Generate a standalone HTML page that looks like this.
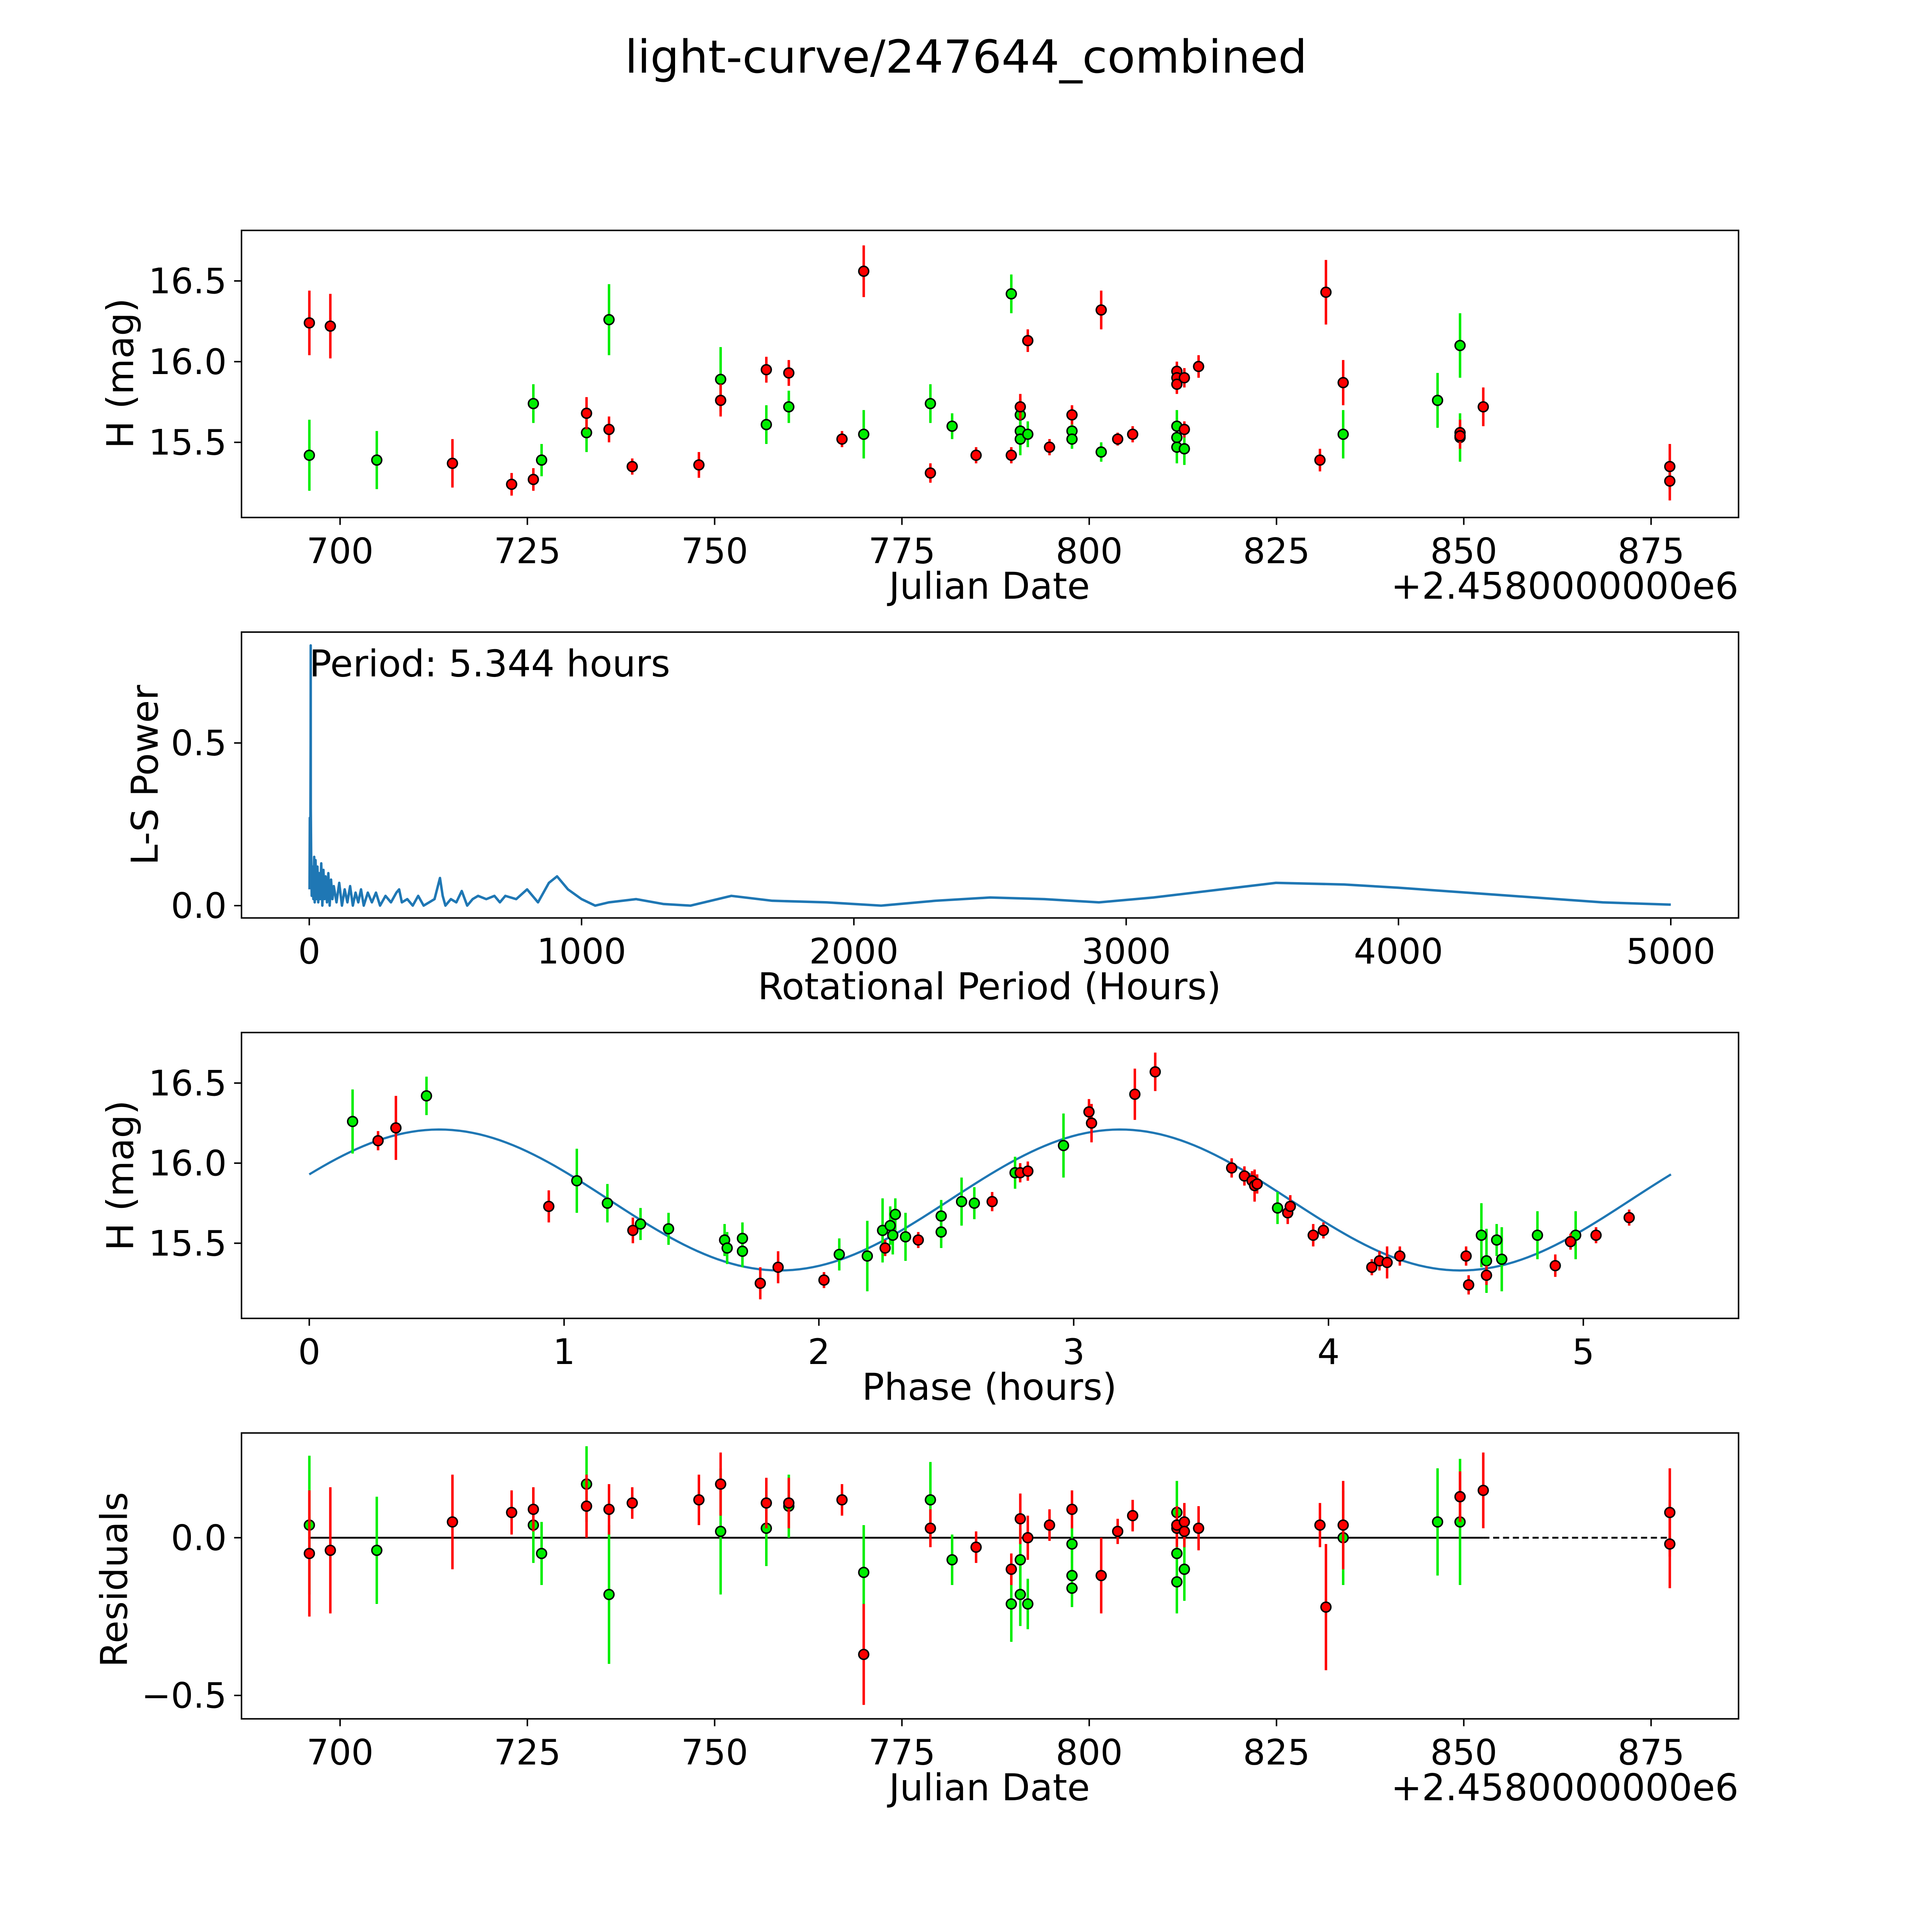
<!DOCTYPE html>
<html><head><meta charset="utf-8"><style>
html,body{margin:0;padding:0;background:#fff;overflow:hidden;width:100vw;height:100vh}
svg{display:block;width:100vw;height:100vh}
text{font-family:"DejaVu Sans","Liberation Sans",sans-serif;fill:#000}
</style></head><body>
<svg id="fig" viewBox="0 0 1568 1568" preserveAspectRatio="none" xmlns="http://www.w3.org/2000/svg">
<rect width="1568" height="1568" fill="#fff"/>
<text x="784" y="59" font-size="37" text-anchor="middle">light-curve/247644_combined</text>
</svg>
<script>
// ---------- Panel 1: light curve data ----------
const redDates=[695.9,698.7,715.0,722.9,725.8,732.9,735.9,739.0,747.9,750.8,756.9,759.9,767.0,769.9,778.8,784.9,789.6,790.8,791.8,794.7,797.7,801.6,803.8,805.8,811.7,811.7,811.7,812.7,812.7,814.6,830.8,831.6,833.9,849.5,849.5,852.6,877.5,877.5];
const redMags=[16.24,16.22,15.37,15.24,15.27,15.68,15.58,15.35,15.36,15.76,15.95,15.93,15.52,16.56,15.31,15.42,15.42,15.72,16.13,15.47,15.67,16.32,15.52,15.55,15.94,15.90,15.86,15.90,15.58,15.97,15.39,16.43,15.87,15.56,15.54,15.72,15.35,15.26];
const redErrs=[0.2,0.2,0.15,0.07,0.07,0.1,0.08,0.05,0.08,0.1,0.08,0.08,0.05,0.16,0.06,0.05,0.05,0.08,0.07,0.05,0.06,0.12,0.04,0.05,0.06,0.06,0.06,0.06,0.05,0.07,0.07,0.2,0.14,0.08,0.08,0.12,0.14,0.12];
const greenDates=[695.9,704.9,725.8,726.9,732.9,735.9,750.8,756.9,759.9,769.9,778.8,781.7,789.6,790.8,790.8,790.8,791.8,797.7,797.7,801.6,811.7,811.7,811.7,812.7,833.9,846.5,849.5,849.5];
const greenMags=[15.42,15.39,15.74,15.39,15.56,16.26,15.89,15.61,15.72,15.55,15.74,15.60,16.42,15.67,15.57,15.52,15.55,15.57,15.52,15.44,15.60,15.53,15.47,15.46,15.55,15.76,16.10,15.53];
const greenErrs=[0.22,0.18,0.12,0.1,0.12,0.22,0.2,0.12,0.1,0.15,0.12,0.08,0.12,0.1,0.1,0.1,0.08,0.06,0.06,0.06,0.1,0.1,0.1,0.1,0.15,0.17,0.2,0.15];
// ---------- Panel 2: periodogram ----------
const lsPeriods=[1,2,3,4,5,5.3,5.6,7,9,12,15,18,20,23,26,30,33,36,40,44,48,52,56,60,65,70,75,80,85,90,100,110,120,130,140,150,160,170,180,190,200,215,230,245,260,280,300,320,330,340,360,380,400,420,440,460,480,490,500,520,540,560,580,600,620,650,680,700,720,760,800,840,880,910,950,1000,1050,1100,1200,1300,1400,1550,1700,1900,2100,2300,2500,2700,2900,3100,3300,3550,3800,4000,4250,4500,4750,5000];
const lsPowers=[0.05,0.27,0.1,0.2,0.5,0.80,0.3,0.15,0.03,0.12,0.02,0.15,0.01,0.14,0.02,0.12,0.01,0.1,0.02,0.13,0.0,0.11,0.02,0.09,0.01,0.1,0.0,0.08,0.02,0.06,0.01,0.07,0.0,0.05,0.01,0.06,0.0,0.04,0.01,0.05,0.0,0.04,0.01,0.04,0.0,0.03,0.01,0.04,0.05,0.01,0.02,0.0,0.03,0.0,0.01,0.02,0.085,0.03,0.0,0.02,0.01,0.045,0.0,0.02,0.03,0.02,0.03,0.01,0.03,0.02,0.05,0.01,0.07,0.09,0.05,0.02,0.0,0.01,0.02,0.005,0.0,0.03,0.015,0.01,0.0,0.015,0.025,0.02,0.01,0.025,0.045,0.07,0.065,0.055,0.04,0.025,0.01,0.003];
// ---------- Panel 3: phased data ----------
const redPhase=[0.27,0.34,0.94,1.27,1.77,1.84,2.02,2.26,2.39,2.68,2.79,2.82,3.06,3.07,3.24,3.32,3.62,3.67,3.70,3.71,3.72,3.84,3.85,3.94,3.98,4.17,4.20,4.23,4.28,4.54,4.55,4.62,4.89,4.95,5.05,5.18];
const redPhaseMag=[16.14,16.22,15.73,15.58,15.25,15.35,15.27,15.47,15.52,15.76,15.94,15.95,16.32,16.25,16.43,16.57,15.97,15.92,15.89,15.86,15.87,15.69,15.73,15.55,15.58,15.35,15.39,15.38,15.42,15.42,15.24,15.30,15.36,15.51,15.55,15.66];
const redPhaseErr=[0.06,0.2,0.1,0.08,0.1,0.1,0.05,0.05,0.05,0.06,0.06,0.06,0.08,0.12,0.16,0.12,0.06,0.06,0.06,0.1,0.06,0.07,0.07,0.07,0.05,0.05,0.06,0.1,0.06,0.06,0.06,0.06,0.07,0.05,0.05,0.05];
const greenPhase=[0.17,0.46,1.05,1.17,1.30,1.41,1.63,1.64,1.70,1.70,2.08,2.19,2.25,2.28,2.29,2.30,2.34,2.48,2.48,2.56,2.61,2.77,2.96,3.80,4.60,4.62,4.66,4.68,4.82,4.97];
const greenPhaseMag=[16.26,16.42,15.89,15.75,15.62,15.59,15.52,15.47,15.53,15.45,15.43,15.42,15.58,15.61,15.55,15.68,15.54,15.57,15.67,15.76,15.75,15.94,16.11,15.72,15.55,15.39,15.52,15.40,15.55,15.55];
const greenPhaseErr=[0.2,0.12,0.2,0.12,0.1,0.1,0.1,0.1,0.1,0.1,0.1,0.22,0.2,0.12,0.12,0.1,0.15,0.1,0.1,0.15,0.1,0.1,0.2,0.1,0.2,0.2,0.1,0.2,0.15,0.15];
const modelMean=15.77, modelAmp=0.44, modelPeak=0.51, modelPeriod=2.672, modelSpan=5.344;
// ---------- Panel 4: residuals ----------
const redRes=[-0.05,-0.04,0.05,0.08,0.09,0.10,0.09,0.11,0.12,0.17,0.11,0.11,0.12,-0.37,0.03,-0.03,-0.10,0.06,0.0,0.04,0.09,-0.12,0.02,0.07,0.03,0.04,0.04,0.05,0.02,0.03,0.04,-0.22,0.04,0.13,0.13,0.15,0.08,-0.02];
const redResDates=[695.9,698.7,715.0,722.9,725.8,732.9,735.9,739.0,747.9,750.8,756.9,759.9,767.0,769.9,778.8,784.9,789.6,790.8,791.8,794.7,797.7,801.6,803.8,805.8,811.7,811.7,811.7,812.7,812.7,814.6,830.8,831.6,833.9,849.5,849.5,852.6,877.5,877.5];
const redResErr=[0.2,0.2,0.15,0.07,0.07,0.1,0.08,0.05,0.08,0.1,0.08,0.08,0.05,0.16,0.06,0.05,0.05,0.08,0.07,0.05,0.06,0.12,0.04,0.05,0.06,0.06,0.06,0.06,0.05,0.07,0.07,0.2,0.14,0.08,0.08,0.12,0.14,0.14];
const greenResDates=[695.9,704.9,725.8,726.9,732.9,735.9,750.8,756.9,759.9,769.9,778.8,781.7,789.6,790.8,790.8,791.8,797.7,797.7,797.7,811.7,811.7,811.7,812.7,833.9,846.5,849.5];
const greenRes=[0.04,-0.04,0.04,-0.05,0.17,-0.18,0.02,0.03,0.10,-0.11,0.12,-0.07,-0.21,-0.07,-0.18,-0.21,-0.02,-0.12,-0.16,0.08,-0.05,-0.14,-0.10,0.0,0.05,0.05];
const greenResErr=[0.22,0.17,0.12,0.1,0.12,0.22,0.2,0.12,0.1,0.15,0.12,0.08,0.12,0.1,0.1,0.08,0.06,0.06,0.06,0.1,0.1,0.1,0.1,0.15,0.17,0.2];

const NS="http://www.w3.org/2000/svg";
const svg=document.getElementById('fig');
function mk(tag,attrs,parent){const e=document.createElementNS(NS,tag);for(const k in attrs)e.setAttribute(k,attrs[k]);(parent||svg).appendChild(e);return e;}
const L=196,R=1411;
const dateX=d=>276+(d-700)*6.08;

function frame(top,bot,name){
  const g=mk('g',{});
  
  
  const r=mk('rect',{x:L,y:top,width:R-L,height:bot-top,fill:'none',stroke:'#000','stroke-width':1.2},g);
  
  
  return g;
}
function xtick(g,x,bot,label,name){
  mk('line',{x1:x,y1:bot,x2:x,y2:bot+6,stroke:'#000','stroke-width':1.2},g);
  const t=mk('text',{x:x,y:bot+37,'font-size':28.5,'text-anchor':'middle'},g);
  t.textContent=label;
  
  
}
function ytick(g,y,label,name){
  mk('line',{x1:L,y1:y,x2:L-6,y2:y,stroke:'#000','stroke-width':1.2},g);
  const t=mk('text',{x:L-12,y:y+10,'font-size':28.5,'text-anchor':'end'},g);
  t.textContent=label;
  
  
}
function label(g,x,y,txt,name,rot,anchor){
  const a={x:x,y:y,'font-size':30,'text-anchor':anchor||'middle'};
  if(rot)a.transform='rotate(-90 '+x+' '+y+')';
  const t=mk('text',a,g);t.textContent=txt;
  
  
}
function points(g,xs,ys,es,xf,yf,col,name){
  for(let i=0;i<xs.length;i++){
    const x=xf(xs[i]);
    const l=mk('line',{x1:x,y1:yf(ys[i]-es[i]),x2:x,y2:yf(ys[i]+es[i]),stroke:col,'stroke-width':2},g);
    
    
  }
  for(let i=0;i<xs.length;i++){
    const c=mk('circle',{cx:xf(xs[i]),cy:yf(ys[i]),r:4,fill:col,stroke:'#000','stroke-width':1.2},g);
    
    
  }
}

// Panel 1
const g1=frame(187,420,'lightcurve-panel');
const y1=m=>359-(m-15.5)*131;
[700,725,750,775,800,825,850,875].forEach(v=>xtick(g1,dateX(v),420,String(v),'x-tick-label'));
[15.5,16.0,16.5].forEach(v=>ytick(g1,y1(v),v.toFixed(1),'y-tick-label'));
points(g1,greenDates,greenMags,greenErrs,dateX,y1,'#00ee00','green-obs');
points(g1,redDates,redMags,redErrs,dateX,y1,'#ff0000','red-obs');
label(g1,108,303,'H (mag)','y-axis-title',true);
label(g1,803,486,'Julian Date','x-axis-title');
label(g1,1411,486,'+2.4580000000e6','x-axis-offset',false,'end');

// Panel 2
const g2=frame(513,745,'periodogram-panel');
const x2=p=>251+p*0.221, y2=p=>735-p*264;
[0,1000,2000,3000,4000,5000].forEach(v=>xtick(g2,x2(v),745,String(v),'x-tick-label'));
[0.0,0.5].forEach(v=>ytick(g2,y2(v),v.toFixed(1),'y-tick-label'));
let d='';
lsPeriods.forEach((p,i)=>{d+=(i?'L':'M')+x2(p).toFixed(2)+','+y2(lsPowers[i]).toFixed(2);});
const pl=mk('path',{d:d,fill:'none',stroke:'#1f77b4','stroke-width':2,'stroke-linejoin':'round'},g2);


label(g2,251,549,'Period: 5.344 hours','period-annotation',false,'start');
label(g2,128,629,'L-S Power','y-axis-title',true);
label(g2,803,811,'Rotational Period (Hours)','x-axis-title');

// Panel 3
const g3=frame(838,1070,'phase-panel');
const x3=p=>251+p*206.8, y3=m=>1009-(m-15.5)*130;
[0,1,2,3,4,5].forEach(v=>xtick(g3,x3(v),1070,String(v),'x-tick-label'));
[15.5,16.0,16.5].forEach(v=>ytick(g3,y3(v),v.toFixed(1),'y-tick-label'));
let md='';
for(let i=0;i<=200;i++){const p=modelSpan*i/200;const m=modelMean+modelAmp*Math.cos(2*Math.PI*(p-modelPeak)/modelPeriod);md+=(i?'L':'M')+x3(p).toFixed(2)+','+y3(m).toFixed(2);}
const ml=mk('path',{d:md,fill:'none',stroke:'#1f77b4','stroke-width':1.8},g3);


points(g3,greenPhase,greenPhaseMag,greenPhaseErr,x3,y3,'#00ee00','green-phase');
points(g3,redPhase,redPhaseMag,redPhaseErr,x3,y3,'#ff0000','red-phase');
label(g3,108,954,'H (mag)','y-axis-title',true);
label(g3,803,1136,'Phase (hours)','x-axis-title');

// Panel 4
const g4=frame(1163,1395,'residuals-panel');
const y4=r=>1248-r*256;
[700,725,750,775,800,825,850,875].forEach(v=>xtick(g4,dateX(v),1395,String(v),'x-tick-label'));
ytick(g4,y4(0),'0.0','y-tick-label');
ytick(g4,y4(-0.5),'\u22120.5','y-tick-label');
const zl=mk('line',{x1:dateX(695.9),y1:y4(0),x2:dateX(852.6),y2:y4(0),stroke:'#000','stroke-width':1.5},g4);


const zd=mk('line',{x1:dateX(852.6),y1:y4(0),x2:dateX(877.5),y2:y4(0),stroke:'#000','stroke-width':1.5,'stroke-dasharray':'5,3'},g4);


points(g4,greenResDates,greenRes,greenResErr,dateX,y4,'#00ee00','green-residual');
points(g4,redResDates,redRes,redResErr,dateX,y4,'#ff0000','red-residual');
label(g4,103,1282,'Residuals','y-axis-title',true);
label(g4,803,1461,'Julian Date','x-axis-title');
label(g4,1411,1461,'+2.4580000000e6','x-axis-offset',false,'end');
</script>
</body></html>
